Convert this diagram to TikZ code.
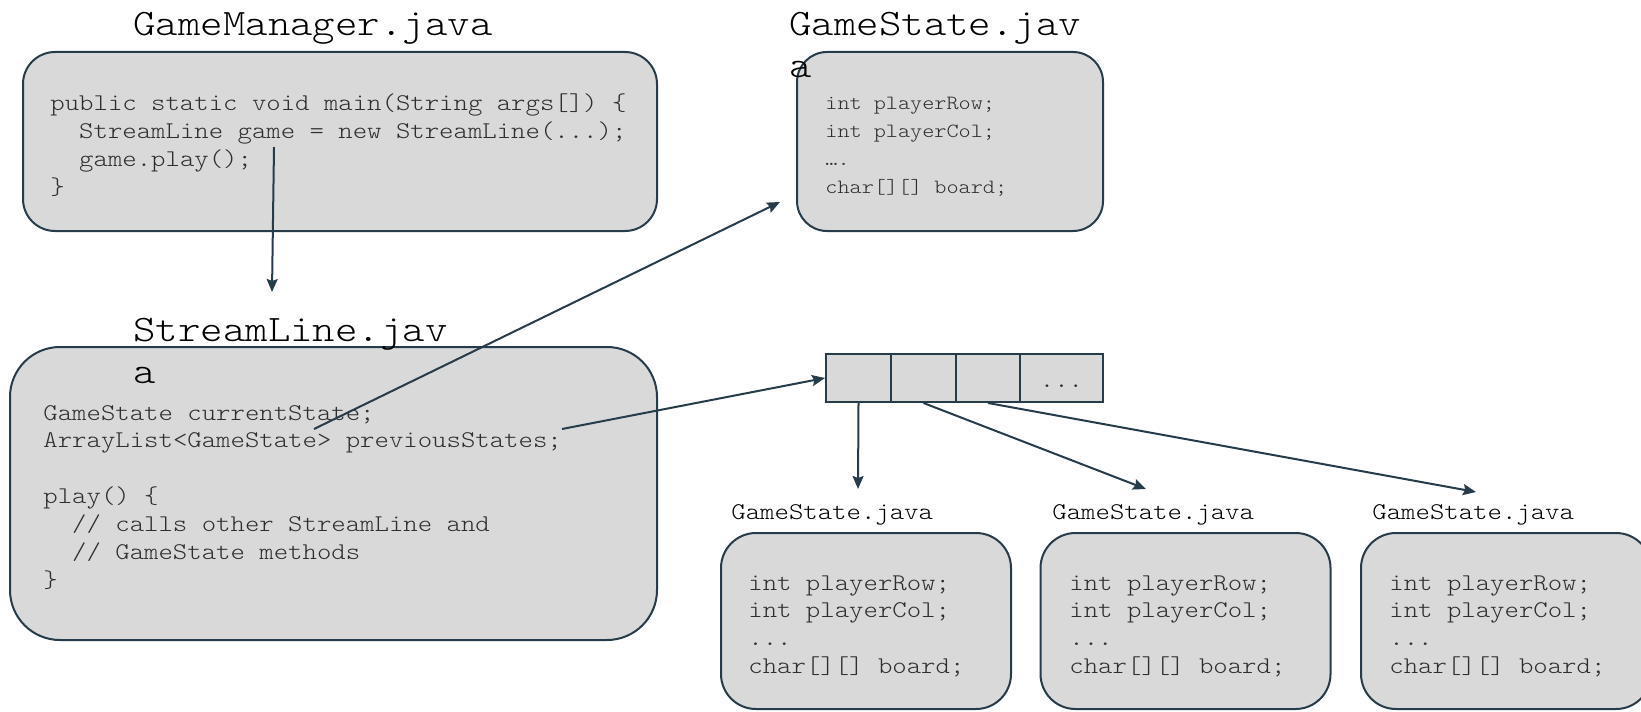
\documentclass[tikz,border=0pt]{standalone}
\usepackage{fontspec}
\setmonofont[FakeStretch=1.143]{Latin Modern Mono Light}
\usetikzlibrary{arrows.meta}
\definecolor{edge}{HTML}{263C4A}
\definecolor{panel}{HTML}{D9D9D9}
\definecolor{codeink}{HTML}{2E2E2E}
\newcommand\ind{\hphantom{xx}}

\begin{document}
\begin{tikzpicture}[x=0.5pt,y=-0.5pt,
  panelbox/.style={draw=edge, fill=panel, line width=1pt, inner sep=0pt},
  cellbox/.style={draw=edge, fill=panel, line width=1pt, inner sep=0pt,
    minimum height=24pt},
  bigtitle/.style={anchor=base west, inner sep=0pt, align=left,
    font=\ttfamily\fontsize{18.7}{21}\selectfont},
  smalltitle/.style={anchor=base west, inner sep=0pt,
    font=\ttfamily\fontsize{12}{13.95}\selectfont},
  code/.style={anchor=base west, inner sep=0pt, align=left, text=codeink,
    font=\ttfamily\fontsize{12}{13.95}\selectfont},
  smallcode/.style={anchor=base west, inner sep=0pt, align=left, text=codeink,
    font=\ttfamily\fontsize{10.1}{13.95}\selectfont},
  link/.style={draw=edge, line width=1pt,
    -{Stealth[length=6.5pt,width=5.5pt,inset=1pt]}}
]
\useasboundingbox (0,0) rectangle (1641,711);

% multi-line nodes are placed by the baseline of their last line

% --- GameManager.java ---
\node[panelbox, rounded corners=16pt, minimum width=317pt, minimum height=89.5pt]
  (gm) at (340,141.5) {};
\node[bigtitle] (gmtitle) at (133,36) {GameManager.java};
\node[code] (gmcode) at (50,194.7) {public static void main(String args[]) \{\\
\ind StreamLine game = new StreamLine(...);\\
\ind game.play();\\
\}};

% --- GameState.java (current) ---
\node[panelbox, rounded corners=15pt, minimum width=153pt, minimum height=89.5pt]
  (gs) at (950,141.5) {};
\node[bigtitle] (gstitle) at (789,78) {GameState.jav\\[0pt]a};
\node[smallcode] (gscode) at (825,193.7) {int playerRow;\\
int playerCol;\\
….\\
char[][] board;};

% --- StreamLine.java ---
\node[panelbox, rounded corners=25pt, minimum width=323.5pt, minimum height=146.5pt]
  (sl) at (333.5,493.5) {};
\node[bigtitle] (sltitle) at (133,383) {StreamLine.jav\\[0pt]a};
\node[code] (slcode) at (43,587.4) {GameState currentState;\\
ArrayList<GameState> previousStates;\\
\mbox{}\\
play() \{\\
\ind // calls other StreamLine and\\
\ind // GameState methods\\
\}};

% --- previousStates list ---
\node[cellbox, minimum width=32.5pt] (c1) at (858.5,378) {};
\node[cellbox, minimum width=32.5pt] (c2) at (923.5,378) {};
\node[cellbox, minimum width=32pt] (c3) at (988,378) {};
\node[cellbox, minimum width=41.5pt] (c4) at (1061.5,378) {};
\node[code, anchor=base] (dots) at (1061.5,387) {...};

% --- stored GameState objects ---
\foreach \n/\bx/\tx in {1/866/731, 2/1185.5/1052, 3/1506/1372} {
  \node[smalltitle] (t\n) at (\tx,519) {GameState.java};
  \node[panelbox, rounded corners=17.5pt, minimum width=145pt, minimum height=88pt]
    (b\n) at (\bx,621) {};
  \node[code] (k\n) at (\tx+17,673.7) {int playerRow;\\
int playerCol;\\
...\\
char[][] board;};
}

% --- connectors ---
\coordinate (gameref) at (274,147);
\coordinate (slin) at (272,292);
\coordinate (curref) at (314,429);
\coordinate (gsin) at (780,202);
\coordinate (prevref) at (562,429);
\coordinate (e1) at (858,489);
\coordinate (e2) at (1146,489);
\coordinate (e3) at (1476,492);

\draw[link] (gameref) -- (slin);
\draw[link] (curref) -- (gsin);
\draw[link] (prevref) -- (c1.west);
\draw[link] (c1.south) -- (e1);
\draw[link] (c2.south) -- (e2);
\draw[link] (c3.south) -- (e3);
\end{tikzpicture}
\end{document}
